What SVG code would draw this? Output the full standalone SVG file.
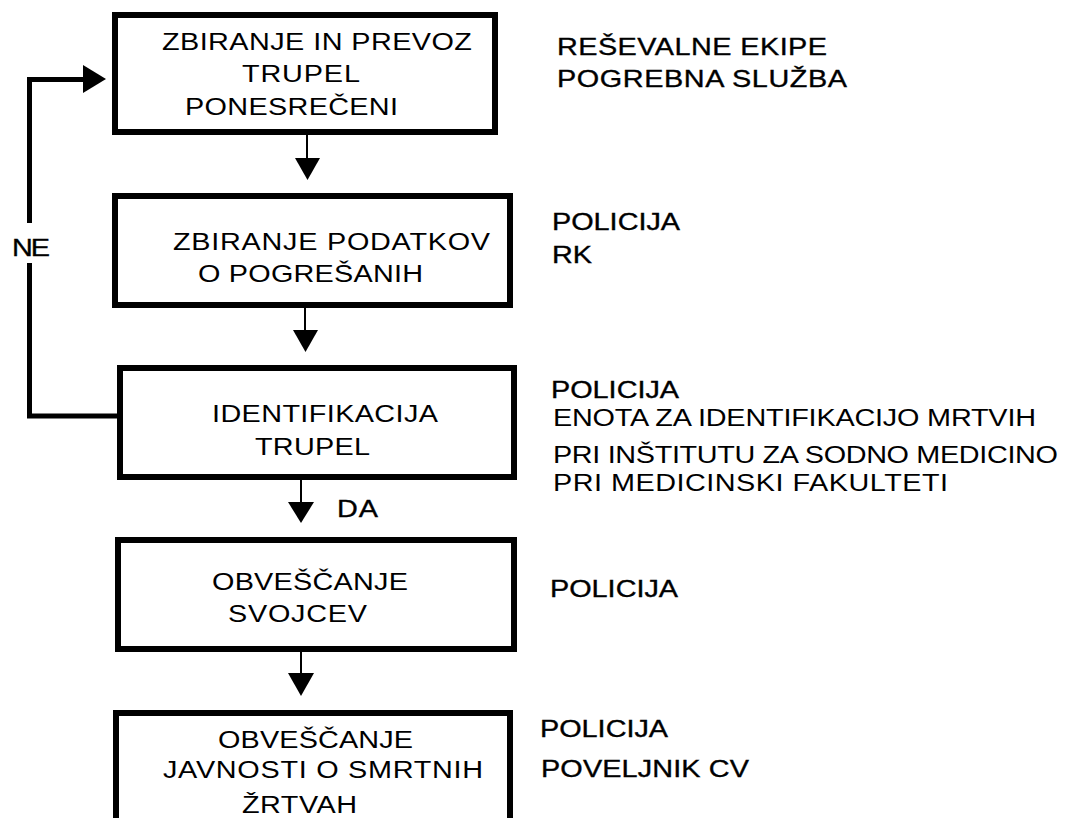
<svg xmlns="http://www.w3.org/2000/svg" width="1089" height="818" viewBox="0 0 1089 818">
  <style>
    .box { fill: #ffffff; stroke: #000000; stroke-width: 6; }
    .t { font-family: "Liberation Sans", Arial, sans-serif; font-size: 24px; fill: #000000; }
    .b { stroke: #000000; stroke-width: 0.35; }
    .thin { stroke: #000000; stroke-width: 2; fill: none; }
    .thick { stroke: #000000; stroke-width: 5; fill: none; }
    .head { fill: #000000; stroke: none; }
  </style>
  <rect x="0" y="0" width="1089" height="818" fill="#ffffff"/>

  <g id="connectors">
    <line class="thin" x1="307" y1="135" x2="307" y2="160"/>
    <polygon class="head" points="295,158 320,158 307.5,180"/>
    <line class="thin" x1="305" y1="308" x2="305" y2="332"/>
    <polygon class="head" points="293,330 318,330 305.5,352"/>
    <line class="thin" x1="301" y1="480" x2="301" y2="504"/>
    <polygon class="head" points="288,502 314,502 301,523"/>
    <line class="thin" x1="301" y1="652" x2="301" y2="675"/>
    <polygon class="head" points="288,673 314,673 301,696"/>
    <polyline class="thick" points="117,416 29.5,416 29.5,263"/>
    <polyline class="thick" points="29.5,223 29.5,79.5 85,79.5"/>
    <polygon class="head" points="83,65 106,79 83,93"/>
    <text class="t b" transform="translate(12,256) scale(1.2,1)" textLength="31.7" lengthAdjust="spacing">NE</text>
    <text class="t b" transform="translate(337,517) scale(1.2,1)" textLength="34.2" lengthAdjust="spacing">DA</text>
  </g>

  <g id="node1">
    <rect class="box" x="115" y="15" width="380" height="117"/>
    <text class="t" transform="translate(162,50) scale(1.2,1)" textLength="258.3" lengthAdjust="spacing">ZBIRANJE IN PREVOZ</text>
    <text class="t" transform="translate(242,82) scale(1.2,1)" textLength="98.3" lengthAdjust="spacing">TRUPEL</text>
    <text class="t" transform="translate(185,115) scale(1.2,1)" textLength="177.5" lengthAdjust="spacing">PONESREČENI</text>
  </g>

  <g id="node2">
    <rect class="box" x="115" y="196" width="395" height="109"/>
    <text class="t" transform="translate(173,250) scale(1.2,1)" textLength="264.2" lengthAdjust="spacing">ZBIRANJE PODATKOV</text>
    <text class="t" transform="translate(198,282) scale(1.2,1)" textLength="187.5" lengthAdjust="spacing">O POGREŠANIH</text>
  </g>

  <g id="node3">
    <rect class="box" x="120" y="368" width="394" height="109"/>
    <text class="t" transform="translate(212,422) scale(1.2,1)" textLength="188.3" lengthAdjust="spacing">IDENTIFIKACIJA</text>
    <text class="t" transform="translate(255,455) scale(1.2,1)" textLength="95.8" lengthAdjust="spacing">TRUPEL</text>
  </g>

  <g id="node4">
    <rect class="box" x="118" y="540" width="396" height="109"/>
    <text class="t" transform="translate(212,590) scale(1.2,1)" textLength="163.3" lengthAdjust="spacing">OBVEŠČANJE</text>
    <text class="t" transform="translate(228,622) scale(1.2,1)" textLength="115.8" lengthAdjust="spacing">SVOJCEV</text>
  </g>

  <g id="node5">
    <rect class="box" x="116" y="713" width="394" height="130"/>
    <text class="t" transform="translate(218,748) scale(1.2,1)" textLength="162.5" lengthAdjust="spacing">OBVEŠČANJE</text>
    <text class="t" transform="translate(163,778) scale(1.2,1)" textLength="266.7" lengthAdjust="spacing">JAVNOSTI O SMRTNIH</text>
    <text class="t" transform="translate(242,813) scale(1.2,1)" textLength="95.8" lengthAdjust="spacing">ŽRTVAH</text>
  </g>

  <g id="note1">
    <text class="t b" transform="translate(557,55) scale(1.2,1)" textLength="225" lengthAdjust="spacing">REŠEVALNE EKIPE</text>
    <text class="t b" transform="translate(557,87) scale(1.2,1)" textLength="241.7" lengthAdjust="spacing">POGREBNA SLUŽBA</text>
  </g>

  <g id="note2">
    <text class="t b" transform="translate(552,230) scale(1.2,1)" textLength="106.7" lengthAdjust="spacing">POLICIJA</text>
    <text class="t b" transform="translate(552,263) scale(1.2,1)" textLength="33.3" lengthAdjust="spacing">RK</text>
  </g>

  <g id="note3">
    <text class="t b" transform="translate(551,398) scale(1.2,1)" textLength="106.7" lengthAdjust="spacing">POLICIJA</text>
    <text class="t" transform="translate(553,426) scale(1.2,1)" textLength="402.5" lengthAdjust="spacing">ENOTA ZA IDENTIFIKACIJO MRTVIH</text>
    <text class="t" transform="translate(553,463) scale(1.2,1)" textLength="420.8" lengthAdjust="spacing">PRI INŠTITUTU ZA SODNO MEDICINO</text>
    <text class="t" transform="translate(553,491) scale(1.2,1)" textLength="329.2" lengthAdjust="spacing">PRI MEDICINSKI FAKULTETI</text>
  </g>

  <g id="note4">
    <text class="t b" transform="translate(550,597) scale(1.2,1)" textLength="106.7" lengthAdjust="spacing">POLICIJA</text>
  </g>

  <g id="note5">
    <text class="t b" transform="translate(540,737) scale(1.2,1)" textLength="106.7" lengthAdjust="spacing">POLICIJA</text>
    <text class="t b" transform="translate(541,777) scale(1.2,1)" textLength="173.3" lengthAdjust="spacing">POVELJNIK CV</text>
  </g>
</svg>
